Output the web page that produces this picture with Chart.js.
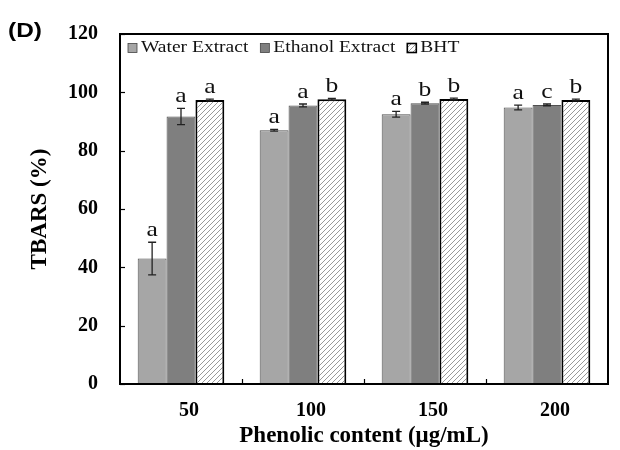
<!DOCTYPE html>
<html>
<head>
<meta charset="utf-8">
<script src="https://cdn.jsdelivr.net/npm/chart.js@4.4.1/dist/chart.umd.min.js"></script>
<style>
  body { margin: 0; background: #fff; }
  #wrap { width: 620px; height: 450px; }
</style>
</head>
<body>
<div id="wrap"><canvas id="chart"></canvas></div>
<script>
// data
const categories = ['50', '100', '150', '200'];
const seriesNames = ['Water Extract', 'Ethanol Extract', 'BHT'];
const waterValues = [43.0, 87.0, 92.5, 94.8];
const ethanolValues = [91.7, 95.5, 96.3, 95.7];
const bhtValues = [97.4, 97.6, 97.7, 97.4];
const waterErrors = [5.6, 0.3, 1.0, 0.8];
const ethanolErrors = [2.8, 0.5, 0.3, 0.3];
const bhtErrors = [0.3, 0.3, 0.3, 0.3];
const waterLetters = ['a', 'a', 'a', 'a'];
const ethanolLetters = ['a', 'a', 'b', 'c'];
const bhtLetters = ['a', 'b', 'b', 'b'];
const yTicks = [0, 20, 40, 60, 80, 100, 120];

const serif = "'Liberation Serif', 'Times New Roman', serif";
const STRETCH = 1.22; // the source figure's text is a bit wide

// diagonal hatch for BHT
function makeHatch() {
    const p = document.createElement('canvas');
    p.width = 5; p.height = 5;
    const g = p.getContext('2d');
    g.fillStyle = '#fff';
    g.fillRect(0, 0, 5, 5);
    g.strokeStyle = '#999';
    g.lineWidth = 1;
    g.beginPath();
    g.moveTo(0, 5); g.lineTo(5, 0);
    g.moveTo(-1, 1); g.lineTo(1, -1);
    g.moveTo(4, 6); g.lineTo(6, 4);
    g.stroke();
    return g.createPattern(p, 'repeat');
}
const ctx = document.getElementById('chart').getContext('2d');
const hatch = makeHatch();

const errorsBySet = [waterErrors, ethanolErrors, bhtErrors];
const lettersBySet = [waterLetters, ethanolLetters, bhtLetters];

// draws text widened horizontally, returns drawn width
function wideText(c, text, x, y, align) {
    const w = c.measureText(text).width * STRETCH;
    let x0 = x;
    if (align === 'center') x0 = x - w / 2;
    c.save();
    c.textAlign = 'left';
    c.translate(x0, y);
    c.scale(STRETCH, 1);
    c.fillText(text, 0, 0);
    c.restore();
    return w;
}

// error bars + significance letters
const errorBarPlugin = {
    id: 'errorBars',
    afterDatasetsDraw(chart) {
        const c = chart.ctx;
        const y = chart.scales.y;
        chart.data.datasets.forEach((ds, i) => {
            const meta = chart.getDatasetMeta(i);
            meta.data.forEach((bar, j) => {
                const v = ds.data[j], e = errorsBySet[i][j];
                const top = y.getPixelForValue(v + e);
                const bot = y.getPixelForValue(v - e);
                c.save();
                c.strokeStyle = '#222';
                c.lineWidth = 1.3;
                c.beginPath();
                c.moveTo(bar.x, top); c.lineTo(bar.x, bot);
                c.moveTo(bar.x - 4, top); c.lineTo(bar.x + 4, top);
                c.moveTo(bar.x - 4, bot); c.lineTo(bar.x + 4, bot);
                c.stroke();
                c.fillStyle = '#111';
                c.font = '21px ' + serif;
                c.textBaseline = 'alphabetic';
                wideText(c, lettersBySet[i][j], bar.x, top - 6, 'center');
                c.restore();
            });
        });
    }
};

// frame, inward ticks, legend inside plot, panel tag
const framePlugin = {
    id: 'frame',
    afterDraw(chart) {
        const c = chart.ctx;
        const a = chart.chartArea;
        const y = chart.scales.y;
        c.save();
        c.strokeStyle = '#000';
        c.lineWidth = 1.2;
        yTicks.forEach(t => {
            const py = Math.round(y.getPixelForValue(t)) + 0.5;
            c.beginPath(); c.moveTo(a.left, py); c.lineTo(a.left + 5, py); c.stroke();
        });
        const step = (a.right - a.left) / categories.length;
        for (let k = 1; k < categories.length; k++) {
            const px = Math.round(a.left + step * k) + 0.5;
            c.beginPath(); c.moveTo(px, a.bottom); c.lineTo(px, a.bottom - 5); c.stroke();
        }
        c.lineWidth = 2;
        c.strokeRect(a.left, a.top, a.right - a.left, a.bottom - a.top);

        // legend
        c.font = '16px ' + serif;
        c.textBaseline = 'middle';
        let lx = a.left + 8;
        const ly = a.top + 14;
        chart.data.datasets.forEach(ds => {
            c.fillStyle = ds.backgroundColor;
            c.fillRect(lx, ly - 4.5, 9, 9);
            c.lineWidth = ds.borderWidth > 1 ? 1.6 : 0.8;
            c.strokeStyle = ds.borderWidth > 1 ? '#000' : '#444';
            c.strokeRect(lx, ly - 4.5, 9, 9);
            c.fillStyle = '#111';
            const w = wideText(c, ds.label, lx + 13, ly, 'left');
            lx += 13 + w + 12;
        });

        c.font = "bold 20px 'Liberation Sans', Arial, sans-serif";
        c.fillStyle = '#000';
        c.textBaseline = 'alphabetic';
        wideText(c, '(D)', 8, 37, 'left');
        c.restore();
    }
};

new Chart(ctx, {
    type: 'bar',
    data: {
        labels: categories,
        datasets: [{
            label: seriesNames[0],
            data: waterValues,
            backgroundColor: '#a6a6a6',
            borderColor: '#505050',
            borderWidth: 1
        }, {
            label: seriesNames[1],
            data: ethanolValues,
            backgroundColor: '#7f7f7f',
            borderColor: '#505050',
            borderWidth: 1
        }, {
            label: seriesNames[2],
            data: bhtValues,
            backgroundColor: hatch,
            borderColor: '#000',
            borderWidth: 2
        }]
    },
    options: {
        responsive: true,
        maintainAspectRatio: false,
        animation: false,
        layout: { padding: { top: 32, right: 12, left: 0, bottom: 0 } },
        datasets: {
            bar: { categoryPercentage: 0.71, barPercentage: 1.0 }
        },
        plugins: {
            legend: { display: false },
            tooltip: { enabled: false }
        },
        scales: {
            x: {
                grid: { display: false, drawTicks: false },
                border: { display: false },
                ticks: {
                    color: '#000',
                    padding: 15,
                    labelOffset: 8,
                    font: { family: serif, size: 20, weight: 'bold' }
                },
                title: {
                    display: true,
                    text: 'Phenolic content (μg/mL)',
                    color: '#000',
                    font: { family: serif, size: 23, weight: 'bold' },
                    padding: { top: 0, bottom: 0 }
                },
                afterFit(scale) { scale.height = 66; }
            },
            y: {
                min: 0,
                max: 120,
                afterBuildTicks(scale) { scale.ticks = yTicks.map(v => ({ value: v })); },
                grid: { display: false, drawTicks: false },
                border: { display: false },
                ticks: {
                    color: '#000',
                    padding: 22,
                    font: { family: serif, size: 20, weight: 'bold' }
                },
                title: {
                    display: true,
                    text: 'TBARS (%)',
                    color: '#000',
                    font: { family: serif, size: 23, weight: 'bold' },
                    padding: { top: 26, bottom: 0 }
                },
                afterFit(scale) { scale.width = 120; }
            }
        }
    },
    plugins: [errorBarPlugin, framePlugin]
});
</script>
</body>
</html>
